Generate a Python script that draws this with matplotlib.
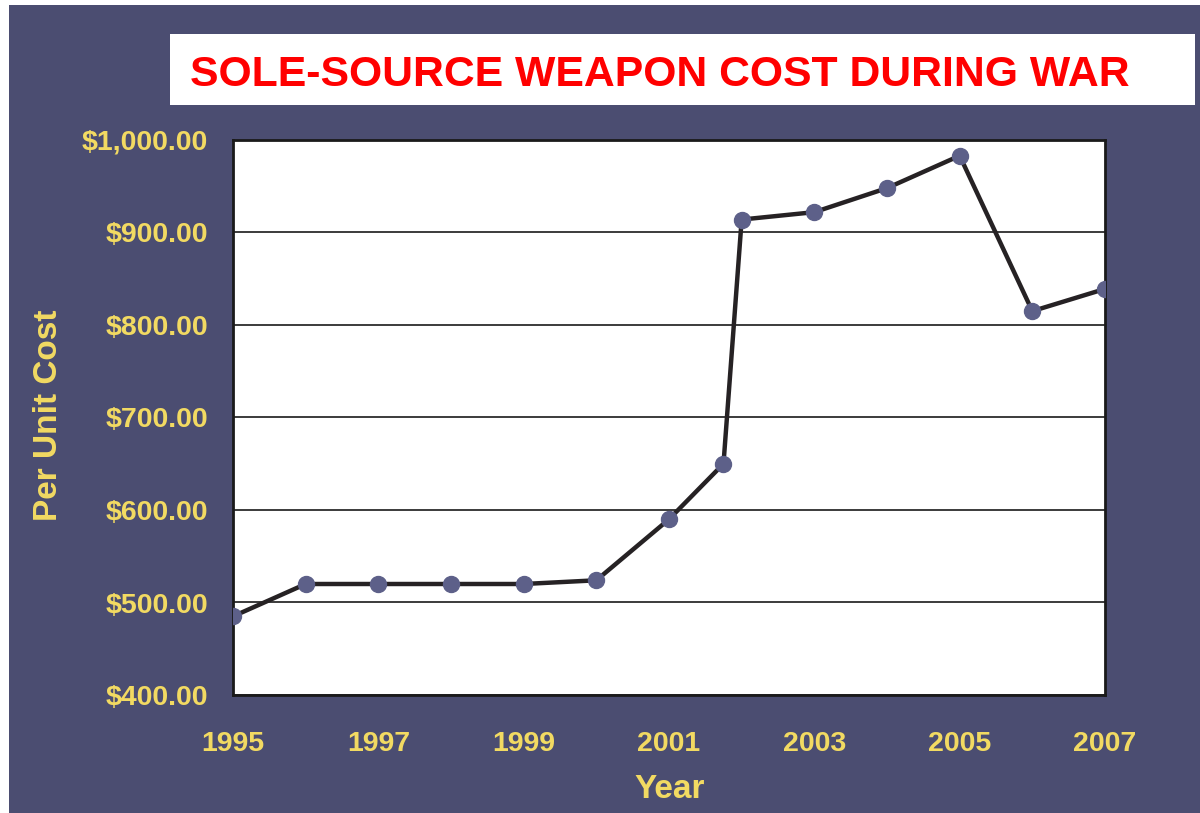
import matplotlib
matplotlib.use("Agg")
import matplotlib.pyplot as plt
from matplotlib.patches import Rectangle
from matplotlib.ticker import FuncFormatter, FixedLocator

# Per-unit cost by year (one extra reading late in 2001)
years = [1995, 1996, 1997, 1998, 1999, 2000, 2001, 2001.75, 2002, 2003, 2004, 2005, 2006, 2007]
unit_cost = [485, 520, 520, 520, 520, 524, 590, 650, 914, 922, 948, 983, 815, 839]

x_ticks = [1995, 1997, 1999, 2001, 2003, 2005, 2007]
y_ticks = [400, 500, 600, 700, 800, 900, 1000]

title = "SOLE-SOURCE WEAPON COST DURING WAR"
x_label = "Year"
y_label = "Per Unit Cost"

BG = "#4b4d71"
YELLOW = "#f2da62"
LINE = "#262224"
MARKER = "#5d6089"
FONT = "Liberation Sans"

W, H = 1200, 813
fig = plt.figure(figsize=(W / 100, H / 100), dpi=100, facecolor="white")

# slate panel with a thin white margin on the top and left
fig.patches.append(Rectangle((9 / W, 0), 1 - 9 / W, 1 - 5 / H,
                             transform=fig.transFigure, facecolor=BG,
                             edgecolor="none", zorder=-2))

# title banner
fig.patches.append(Rectangle((170 / W, 1 - 105 / H), 1025 / W, 71 / H,
                             transform=fig.transFigure, facecolor="white",
                             edgecolor="none", zorder=-1))
fig.text(190 / W, 1 - 86 / H, title, ha="left", va="baseline",
         fontsize=30.8, fontweight="bold", color="#ff0000", family=FONT, zorder=2)

ax = fig.add_axes([233 / W, 1 - 695 / H, 872 / W, 555 / H])
ax.set_zorder(5)
ax.set_facecolor("white")
ax.set_xlim(1995, 2007)
ax.set_ylim(400, 1000)

ax.yaxis.set_major_locator(FixedLocator(y_ticks))
ax.xaxis.set_major_locator(FixedLocator(x_ticks))
ax.yaxis.set_major_formatter(FuncFormatter(lambda v, p: f"${v:,.2f}"))
ax.xaxis.set_major_formatter(FuncFormatter(lambda v, p: f"{int(v)}"))

ax.grid(axis="y", color="#1a1a1a", linewidth=1.2, zorder=1)
ax.set_axisbelow(True)

for s in ax.spines.values():
    s.set_color("#1a1a1a")
    s.set_linewidth(2)

ax.tick_params(axis="both", length=0, labelcolor=YELLOW)
ax.tick_params(axis="y", pad=18, labelsize=20.5)
ax.tick_params(axis="x", pad=26, labelsize=20.5)
for lab in ax.get_xticklabels() + ax.get_yticklabels():
    lab.set_fontweight("bold")
    lab.set_family(FONT)

ax.plot(years, unit_cost, color=LINE, linewidth=3.2, marker="o",
        markersize=11.5, markerfacecolor=MARKER, markeredgecolor=MARKER,
        zorder=3)

fig.text(57 / W, 1 - 415.5 / H, y_label, rotation=90, rotation_mode="anchor",
         ha="center", va="baseline", fontsize=24, fontweight="bold",
         color=YELLOW, family=FONT)
fig.text(670 / W, 1 - 798 / H, x_label, ha="center", va="baseline",
         fontsize=24, fontweight="bold", color=YELLOW, family=FONT)

fig.savefig("out.png", dpi=100, facecolor=fig.get_facecolor())
